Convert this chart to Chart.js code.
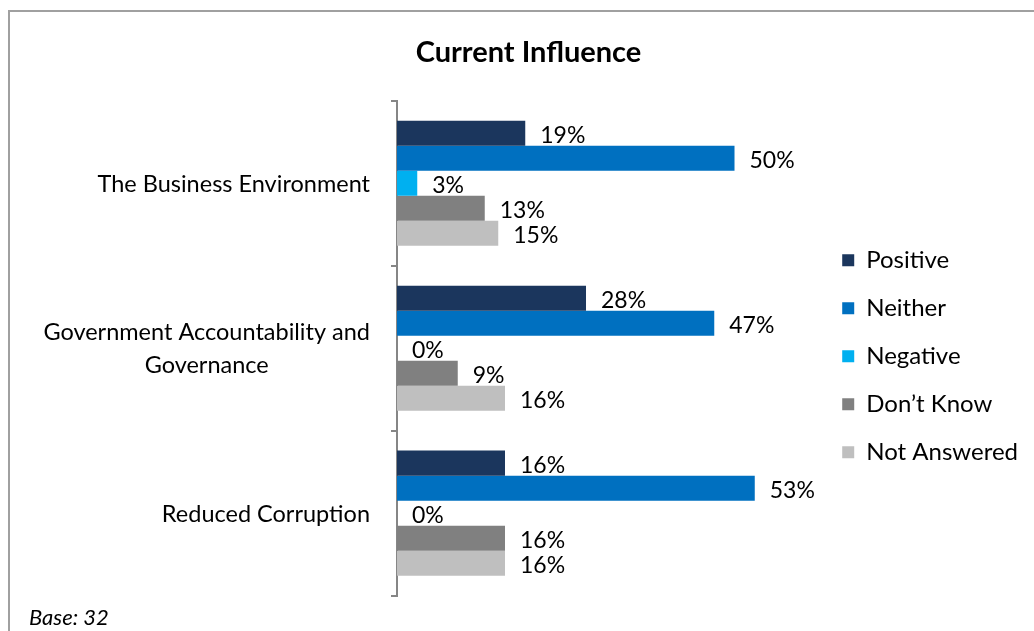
<!DOCTYPE html>
<html>
<head>
<meta charset="utf-8">
<script src="https://cdn.jsdelivr.net/npm/chart.js@4.4.1/dist/chart.umd.min.js"></script>
<style>
  html, body { margin: 0; padding: 0; background: #fff; overflow: hidden; }
  #frame {
    position: absolute; left: 8px; top: 10px; width: 1200px; height: 800px;
    border-left: 2px solid #a0a0a0; border-top: 2px solid #a0a0a0;
  }
  #wrap { position: absolute; left: 0; top: 0; width: 1056px; height: 631px; }
</style>
</head>
<body>
<div id="frame"></div>
<div id="wrap"><canvas id="chart"></canvas></div>
<script>
const categories = [
  "The Business Environment",
  ["Government Accountability and", "Governance"],
  "Reduced Corruption",
];
const seriesNames = ["Positive", "Neither", "Negative", "Don\u2019t Know", "Not Answered"];
const positive = [19, 28, 16];
const neither = [50, 47, 53];
const negative = [3, 0, 0];
const dontKnow = [13, 9, 16];
const notAnswered = [15, 16, 16];
const colors = ["#1b365d", "#0070c0", "#00b0f0", "#808080", "#bfbfbf"];

const FONT = "Lato, 'Open Sans', sans-serif";
const values = [positive, neither, negative, dontKnow, notAnswered];

// value labels at the end of each bar
const barLabels = {
  id: "barLabels",
  afterDatasetsDraw(chart) {
    const ctx = chart.ctx;
    ctx.save();
    ctx.font = `23px ${FONT}`;
    ctx.fillStyle = "#000";
    ctx.textAlign = "left";
    ctx.textBaseline = "middle";
    chart.data.datasets.forEach((ds, i) => {
      chart.getDatasetMeta(i).data.forEach((el, j) => {
        ctx.fillText(`${ds.data[j]}%`, el.x + 15, el.y + 2);
      });
    });
    ctx.restore();
  },
};

// category labels: block right-aligned, lines centred within the block
const catLabels = {
  id: "catLabels",
  afterDraw(chart) {
    const ctx = chart.ctx;
    const y = chart.scales.y;
    const right = chart.chartArea.left - 27;
    const lh = 33;
    ctx.save();
    ctx.font = `23.5px ${FONT}`;
    ctx.fillStyle = "#000";
    ctx.textBaseline = "middle";
    ctx.textAlign = "center";
    categories.forEach((c, i) => {
      const lines = Array.isArray(c) ? c : [c];
      const w = Math.max(...lines.map(l => ctx.measureText(l).width));
      const cx = right - w / 2;
      const cy = y.getPixelForTick(i);
      lines.forEach((l, k) => {
        ctx.fillText(l, cx, cy + (k - (lines.length - 1) / 2) * lh + 1);
      });
    });
    ctx.restore();
  },
};

new Chart(document.getElementById("chart"), {
  type: "bar",
  data: {
    labels: categories,
    datasets: seriesNames.map((name, i) => ({
      label: name,
      data: values[i],
      backgroundColor: colors[i],
      borderWidth: 0,
      categoryPercentage: 0.758,
      barPercentage: 1.0,
    })),
  },
  options: {
    indexAxis: "y",
    animation: false,
    responsive: true,
    maintainAspectRatio: false,
    layout: { padding: { left: 29, right: 28, top: 0, bottom: 0 } },
    plugins: {
      title: {
        display: true,
        text: "Current Influence",
        color: "#000",
        font: { family: FONT, size: 29, weight: "bold", lineHeight: 1.2 },
        padding: { top: 35, bottom: 31 },
      },
      subtitle: {
        display: true,
        text: "Base: 32",
        position: "bottom",
        align: "start",
        color: "#000",
        font: { family: FONT, size: 22, style: "italic", lineHeight: 1.2 },
        padding: { top: 9, bottom: 0 },
      },
      legend: {
        position: "right",
        fullSize: false,
        title: { display: true, text: "", font: { size: 1, lineHeight: 1 }, padding: 7.5 },
        labels: {
          color: "#000",
          boxWidth: 12,
          boxHeight: 12,
          padding: 24,
          font: { family: FONT, size: 24 },
        },
      },
      tooltip: { enabled: false },
    },
    scales: {
      x: { display: false, min: 0, max: 62.4 },
      y: {
        afterFit: (s) => { s.width = 368; },
        ticks: { display: false },
        grid: {
          offset: true,
          drawOnChartArea: false,
          drawTicks: true,
          tickLength: 6,
          color: "#868686",
          lineWidth: 2,
        },
        border: { display: true, color: "#868686", width: 2 },
      },
    },
  },
  plugins: [barLabels, catLabels],
});
</script>
</body>
</html>
